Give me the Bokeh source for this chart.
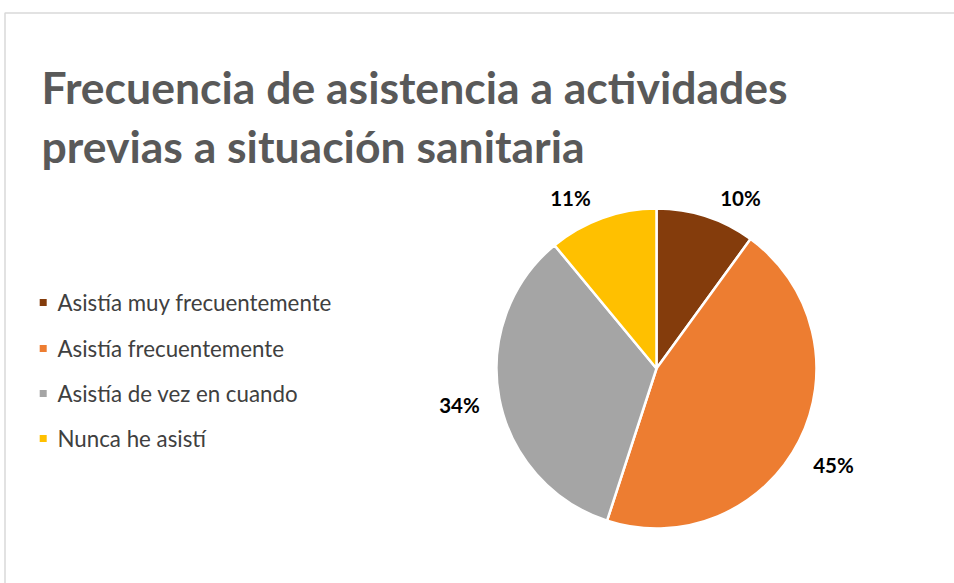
import numpy as np
from bokeh.plotting import figure
from bokeh.models import Range1d, ColumnDataSource
from bokeh.core.properties import value
from bokeh.embed import file_html
from bokeh.resources import INLINE

# ---- data ----
title_lines = ["Frecuencia de asistencia a actividades", "previas a situación sanitaria"]
categories = ["Asistía muy frecuentemente", "Asistía frecuentemente",
              "Asistía de vez en cuando", "Nunca he asistí"]
percentages = [10, 45, 34, 11]
colors = ["#843C0C", "#ED7D31", "#A5A5A5", "#FFC000"]

W, H = 954, 583


def Y(py):
    return H - py


p = figure(width=W, height=H, x_range=Range1d(0, W), y_range=Range1d(0, H),
           output_backend="svg", toolbar_location=None, min_border=0,
           x_axis_type=None, y_axis_type=None, background_fill_color="white")
p.grid.visible = False
p.outline_line_color = None

# chart area border
p.quad(left=[4.5], right=[W + 10], top=[Y(12.5)], bottom=[-10],
       fill_color=None, line_color="#D9D9D9", line_width=1.5)

# title
p.text(x=[41, 41], y=[Y(86), Y(145)], text=title_lines,
       text_font=value("Lato"), text_font_style="bold", text_font_size="44.5px",
       text_color="#595959", text_baseline="alphabetic", text_align="left")

# pie
vals = np.array(percentages, dtype=float)
frac = vals / vals.sum()
cum = np.concatenate([[0], np.cumsum(frac)])
start = np.pi / 2 - 2 * np.pi * cum[:-1]
end = np.pi / 2 - 2 * np.pi * cum[1:]
cx, cy, r = 656, Y(368), 160
src = ColumnDataSource(dict(start=start, end=end, color=colors))
p.wedge(x=cx, y=cy, radius=r, start_angle="start", end_angle="end",
        direction="clock", fill_color="color", line_color="white",
        line_width=2.5, source=src)

# data labels (positioned outside, as in the reference)
label_dx = [84, 177, -197, -86]
label_dy = [-171, 96, 36, -171]
labels = [f"{v}%" for v in percentages]
p.text(x=[cx + d for d in label_dx], y=[cy - d for d in label_dy], text=labels,
       text_font=value("Lato"), text_font_style="bold", text_font_size="20.5px",
       text_color="#000000", text_baseline="middle", text_align="center")

# legend
leg_y = [302, 348, 393, 438]
p.rect(x=[42.7] * 4, y=[Y(v) for v in leg_y], width=7, height=7,
       fill_color=colors, line_color=None)
p.text(x=[57] * 4, y=[Y(v) for v in leg_y], text=categories,
       text_font=value("Lato"), text_font_size="22.3px", text_color="#404040",
       text_baseline="middle", text_align="left")

open("out.html", "w").write(file_html(p, INLINE))
